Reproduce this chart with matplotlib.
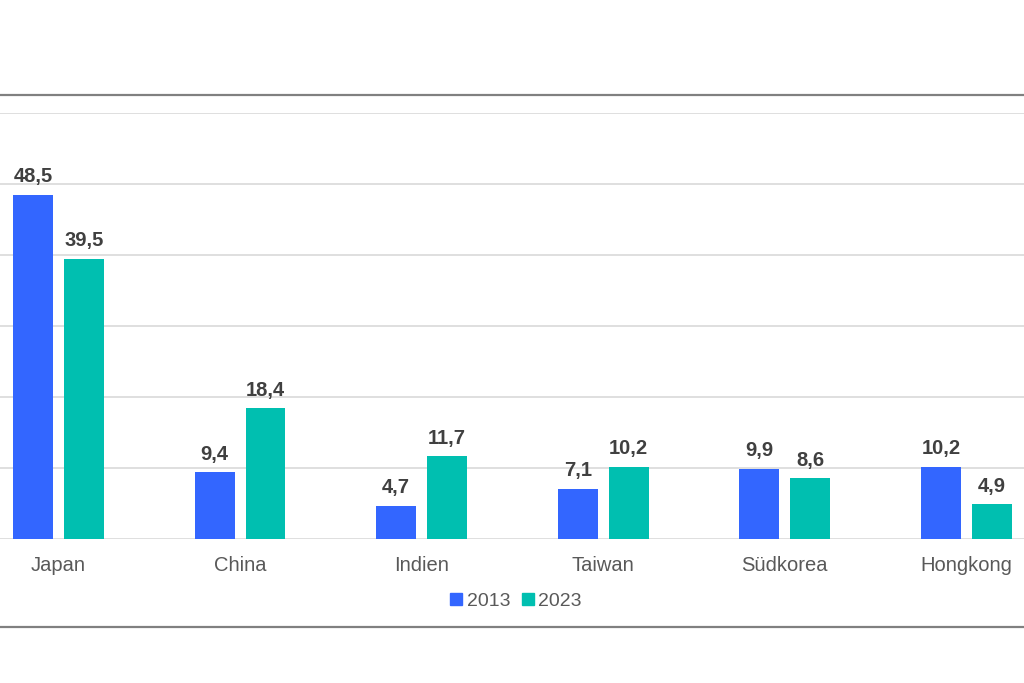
import matplotlib.pyplot as plt
import numpy as np
from matplotlib.lines import Line2D

plt.rcParams['font.family'] = ['Liberation Sans', 'DejaVu Sans']

countries = ['Japan', 'China', 'Indien', 'Taiwan', 'Südkorea', 'Hongkong']
values_2013 = [48.5, 9.4, 4.7, 7.1, 9.9, 10.2]
values_2023 = [39.5, 18.4, 11.7, 10.2, 8.6, 4.9]
years = ['2013', '2023']

blue = '#3366FF'
teal = '#00BFB0'

fig = plt.figure(figsize=(10.24, 6.83), dpi=100)
ax = fig.add_axes([0, 144 / 683, 1, 426 / 683])

x = np.arange(len(countries))
w = 0.22
off = 0.14
b1 = ax.bar(x - off, values_2013, w, color=blue, zorder=3)
b2 = ax.bar(x + off, values_2023, w, color=teal, zorder=3)

def fmt(v):
    return f'{v:.1f}'.replace('.', ',')

for bars, vals in ((b1, values_2013), (b2, values_2023)):
    for rect, v in zip(bars, vals):
        ax.annotate(fmt(v), (rect.get_x() + rect.get_width() / 2, v),
                    xytext=(0, 6), textcoords='offset points',
                    ha='center', va='bottom', fontsize=14.5,
                    fontweight='bold', color='#404040')

ax.set_xlim(-0.322, 5.317)
ax.set_ylim(0, 60)
ax.set_yticks(np.arange(0, 61, 10))
ax.yaxis.grid(True, color='#d9d9d9', linewidth=1.2, zorder=0)
ax.tick_params(axis='y', left=False, labelleft=False)
ax.tick_params(axis='x', bottom=False, pad=9)
ax.set_xticks(x)
ax.set_xticklabels(countries, fontsize=14.5, color='#595959')
for s in ax.spines.values():
    s.set_visible(False)

handles = [Line2D([], [], marker='s', linestyle='none', markersize=8, color=c) for c in (blue, teal)]
fig.legend(handles, years, loc='center', bbox_to_anchor=(515 / 1024, 1 - 601 / 683),
           ncol=2, frameon=False, fontsize=14, labelcolor='#595959',
           handlelength=0.8, handletextpad=0.15, columnspacing=0.5)

# outer frame lines
fig.add_artist(Line2D([0, 1], [1 - 95 / 683] * 2, color='#808080', linewidth=1.6, transform=fig.transFigure))
fig.add_artist(Line2D([0, 1], [1 - 627 / 683] * 2, color='#808080', linewidth=1.6, transform=fig.transFigure))

fig.savefig('out.png', dpi=100, facecolor='white')
